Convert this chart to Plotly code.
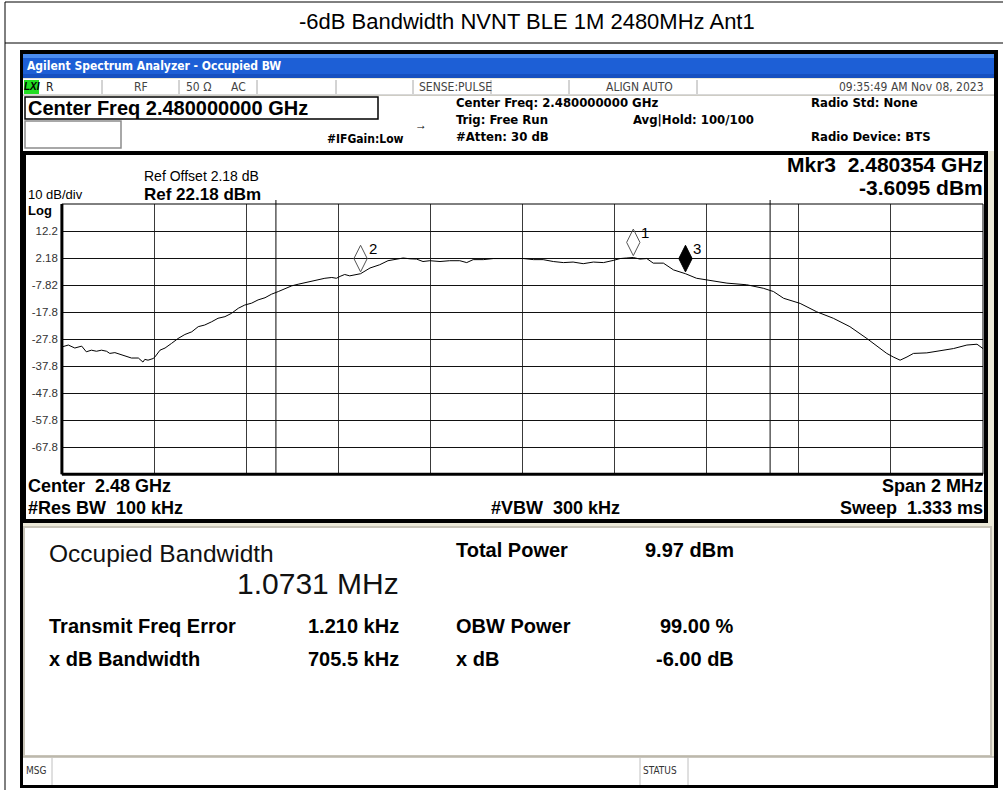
import plotly.graph_objects as go

# ---------------- data ----------------
center_mhz = 2480.0
span_mhz = 2.0
ref_level = 22.18
db_per_div = 10.0

trace_offset_khz = [-1000, -986, -972, -957, -947, -936, -925, -914, -903, -896,
                    -885, -874, -863, -849, -834, -824, -820, -813, -802, -798,
                    -787, -776, -762, -748, -733, -718, -704, -690, -675, -661,
                    -646, -632, -617, -603, -588, -574, -559, -545, -530, -516,
                    -501, -487, -472, -458, -443, -429, -414, -404, -396, -386,
                    -375, -364, -351.5, -331, -310, -292, -273, -259, -244, -230,
                    -216, -201, -179, -158, -136, -121, -107, -85, -63, -42,
                    -20, 2, 24, 45, 67, 89, 110, 132, 154, 176,
                    197, 212, 226, 240.7, 255, 270, 284, 306, 328, 354,
                    378, 407, 444, 487, 523, 545, 567, 603, 639, 675,
                    711, 748, 777, 791, 805, 820, 835, 849, 878, 907,
                    936, 965, 987, 1000]
trace_level_dbm = [-30.7, -30.0, -31.1, -30.4, -32.5, -31.9, -32.3, -31.9, -32.3, -33.1,
                   -32.8, -33.5, -34.0, -34.8, -34.8, -36.3, -35.3, -35.6, -35.0, -34.4,
                   -31.9, -31.1, -29.4, -27.6, -26.1, -25.1, -23.2, -22.6, -21.4, -20.1,
                   -19.5, -18.3, -16.4, -15.2, -14.5, -13.3, -12.5, -11.2, -10.2, -9.2,
                   -8.1, -7.5, -6.9, -6.3, -5.6, -5.3, -5.0, -5.3, -4.6, -3.9,
                   -4.4, -4.0, -3.61, -1.5, -0.3, 1.2, 1.9, 2.2, 1.9, 1.8,
                   0.9, 1.2, 0.9, 1.2, 1.2, 0.5, 1.6, 1.6, 2.0, 2.0,
                   2.2, 2.0, 1.6, 1.6, 0.9, 0.5, 0.7, 0.1, 0.7, 0.5,
                   1.3, 2.0, 2.2, 2.39, 1.8, 2.0, 0.3, 0.3, -2.2, -3.61,
                   -5.3, -6.2, -7.1, -7.7, -9.0, -10.2, -12.7, -14.6, -17.7, -20.1,
                   -23.2, -27.6, -31.3, -33.1, -34.4, -35.6, -34.4, -33.1, -32.9, -32.2,
                   -31.3, -30.0, -29.7, -31.3]

marker_labels = ["1", "2", "3"]
marker_freq_mhz = [2480.2407, 2479.6485, 2480.354]
marker_level_dbm = [2.39, -3.61, -3.6095]
marker_filled = [False, False, True]

obw_mhz = 1.0731
freq_error_khz = 1.210

ytick_vals = [12.18, 2.18, -7.82, -17.82, -27.82, -37.82, -47.82, -57.82, -67.82]
ytick_text = ["12.2", "2.18", "-7.82", "-17.8", "-27.8", "-37.8", "-47.8", "-57.8", "-67.8"]

# ---------------- layout helpers ----------------
W, H = 1003, 794
FONT = "Arial, Liberation Sans, sans-serif"
NARROW = "Liberation Sans Narrow, Arial Narrow, DejaVu Sans Condensed, sans-serif"


def X(px):
    return px / W


def Y(py):
    return 1 - py / H


shapes = []
anns = []


def rect(x0, y0, x1, y1, fill=None, line=None, lw=1, layer="below"):
    shapes.append(dict(type="rect", xref="paper", yref="paper",
                       x0=X(x0), x1=X(x1), y0=Y(y1), y1=Y(y0),
                       fillcolor=fill if fill else "rgba(0,0,0,0)",
                       line=dict(color=line if line else "rgba(0,0,0,0)", width=lw if line else 0),
                       layer=layer))


def seg(x0, y0, x1, y1, color="#000", lw=1, layer="below"):
    shapes.append(dict(type="line", xref="paper", yref="paper",
                       x0=X(x0), x1=X(x1), y0=Y(y0), y1=Y(y1),
                       line=dict(color=color, width=lw), layer=layer))


def txt(px, py, s, size=12, bold=False, color="#000", anchor="left", family=FONT):
    anns.append(dict(x=X(px), y=Y(py), xref="paper", yref="paper",
                     text=(f"<b>{s}</b>" if bold else s), showarrow=False,
                     xanchor=anchor, yanchor="middle", borderpad=0,
                     font=dict(size=size, color=color, family=family)))


NB = "\u00a0"

# ---------------- page frame / report title ----------------
seg(5, 2, 1003, 2, "#000", 1)
seg(5, 43, 1003, 43, "#000", 1)
seg(5, 2, 5, 790, "#000", 1)
txt(527, 21, "-6dB Bandwidth NVNT BLE 1M 2480MHz Ant1", 22, anchor="center")

# ---------------- analyzer window ----------------
rect(20, 50, 998, 788, fill="#000000")
rect(23, 54, 994, 785, fill="#ECE9D8")
# title bar
rect(23, 54, 994, 78, fill="#1D5FD6")
rect(23, 54, 994, 58, fill="#4A8CF0")
rect(23, 74, 994, 78, fill="#1650C0")
txt(26, 66, "Agilent Spectrum Analyzer - Occupied BW", 12, bold=True, color="#FFFFFF",
    family="DejaVu Sans Condensed, sans-serif")

# status row
rect(23, 79, 994, 95, fill="#FFFFFF")
seg(23, 95, 994, 95, "#B0B0B0", 1)
rect(24, 80, 39, 94, fill="#22DD22")
anns.append(dict(x=X(31.5), y=Y(87), xref="paper", yref="paper", text="<b><i>LXI</i></b>",
                 showarrow=False, xanchor="center", yanchor="middle",
                 font=dict(size=10, color="#000", family=FONT)))
for sx in [102, 179, 257, 336, 413, 491, 569, 697]:
    seg(sx, 80, sx, 94, "#A8A8A8", 1)
txt(45, 87, "R", 12, color="#222", family=NARROW)
txt(133, 87, "RF", 12, color="#444", family=NARROW)
txt(185, 87, "50 Ω", 12, color="#444", family=NARROW)
txt(230, 87, "AC", 12, color="#444", family=NARROW)
txt(418, 87, "SENSE:PULSE", 12, color="#444", family=NARROW)
txt(605, 87, "ALIGN AUTO", 12, color="#444", family=NARROW)
txt(985, 87, "09:35:49 AM Nov 08, 2023", 12, color="#444", anchor="right", family=NARROW)

# info area
rect(23, 96, 994, 151, fill="#FFFFFF")
rect(25, 97, 378, 119, fill="#FFFFFF", line="#000", lw=1.5)
txt(27, 108, "Center Freq 2.480000000 GHz", 20, bold=True)
rect(25, 121, 121, 148, fill="#FFFFFF", line="#8C8C8C", lw=1.5)
txt(326, 139, "#IFGain:Low", 12, bold=True, family=NARROW)
txt(414, 125, "→", 12, bold=True)
txt(455, 103, "Center Freq: 2.480000000 GHz", 13, bold=True, family=NARROW)
txt(455, 119, "Trig: Free Run", 13, bold=True, family=NARROW)
txt(455, 136, "#Atten: 30 dB", 13, bold=True, family=NARROW)
txt(632, 119, "Avg|Hold: 100/100", 13, bold=True, family=NARROW)
txt(810, 103, "Radio Std: None", 13, bold=True, family=NARROW)
txt(810, 137, "Radio Device: BTS", 13, bold=True, family=NARROW)

# graph panel
rect(23, 151, 988, 523, fill="#000000")
rect(26, 155, 984, 519, fill="#FFFFFF")
txt(143, 176, "Ref Offset 2.18 dB", 14)
txt(143, 194, "Ref 22.18 dBm", 17, bold=True)
txt(27, 194, "10 dB/div", 13)
txt(27, 210, "Log", 13, bold=True)
txt(984, 164, f"Mkr3{NB}{NB}2.480354 GHz", 21, bold=True, anchor="right")
txt(984, 188, "-3.6095 dBm", 21, bold=True, anchor="right")
txt(27, 486, f"Center{NB}{NB}2.48 GHz", 18, bold=True)
txt(27, 508, f"#Res BW{NB}{NB}100 kHz", 18, bold=True)
txt(490, 508, f"#VBW{NB}{NB}300 kHz", 18, bold=True)
txt(984, 486, "Span 2 MHz", 18, bold=True, anchor="right")
txt(984, 508, f"Sweep{NB}{NB}1.333 ms", 18, bold=True, anchor="right")

# result panel
rect(24, 527, 991, 756, fill="#FFFFFF", line="#C8C4B8", lw=2)
txt(48, 553, "Occupied Bandwidth", 24.5, color="#111")
txt(400, 583, "1.0731 MHz", 30, color="#111", anchor="right")
txt(455, 550, "Total Power", 20, bold=True)
txt(735, 550, "9.97 dBm", 20, bold=True, anchor="right")
txt(48, 626, "Transmit Freq Error", 20, bold=True)
txt(400, 626, "1.210 kHz", 20, bold=True, anchor="right")
txt(455, 626, "OBW Power", 20, bold=True)
txt(735, 626, "99.00 %", 20, bold=True, anchor="right")
txt(48, 659, "x dB Bandwidth", 20, bold=True)
txt(400, 659, "705.5 kHz", 20, bold=True, anchor="right")
txt(455, 659, "x dB", 20, bold=True)
txt(735, 659, "-6.00 dB", 20, bold=True, anchor="right")

# bottom status bar
rect(23, 757, 994, 785, fill="#FFFFFF")
seg(23, 757, 994, 757, "#B8B4A8", 1.5)
seg(52, 758, 52, 785, "#C0C0C0", 1)
seg(640, 758, 640, 785, "#C0C0C0", 1)
seg(688, 758, 688, 785, "#C0C0C0", 1)
txt(25, 770, "MSG", 10, color="#333", family=NARROW)
txt(642, 770, "STATUS", 10, color="#333", family=NARROW)

# ---------------- spectrum plot ----------------
freq_mhz = [center_mhz + k / 1000.0 for k in trace_offset_khz]
x_lo, x_hi = center_mhz - span_mhz / 2, center_mhz + span_mhz / 2
y_hi = ref_level
y_lo = ref_level - 10 * db_per_div

fig = go.Figure()
fig.add_trace(go.Scatter(x=freq_mhz, y=trace_level_dbm, mode="lines",
                         line=dict(color="#000000", width=1), hoverinfo="skip",
                         showlegend=False))

# marker diamonds sit above the marked point
diamond_lift_db = 5.6
for lab, f, lv, filled in zip(marker_labels, marker_freq_mhz, marker_level_dbm, marker_filled):
    fig.add_trace(go.Scatter(
        x=[f], y=[lv + diamond_lift_db], mode="markers", showlegend=False, hoverinfo="skip",
        marker=dict(symbol="diamond-tall" if filled else "diamond-tall-open", size=19,
                    color="#000000" if filled else "#555555",
                    line=dict(color="#000000" if filled else "#555555", width=1))))
    anns.append(dict(x=f, y=lv + diamond_lift_db, xref="x", yref="y", text=lab,
                     showarrow=False, xanchor="center", yanchor="middle",
                     xshift=12, yshift=10, font=dict(size=15, color="#000", family=FONT)))

# occupied bandwidth boundary lines
obw_center = center_mhz + freq_error_khz / 1000.0
for edge in [obw_center - obw_mhz / 2, obw_center + obw_mhz / 2]:
    shapes.append(dict(type="line", xref="x", yref="y domain", x0=edge, x1=edge, y0=0, y1=1.015,
                       line=dict(color="#333333", width=1.2), layer="below"))

# plot frame: thin top/right, heavy left/bottom
shapes.append(dict(type="rect", xref="x domain", yref="y domain", x0=0, x1=1, y0=0, y1=1,
                   line=dict(color="#000", width=1), layer="above"))
shapes.append(dict(type="line", xref="x domain", yref="y domain", x0=0, x1=0, y0=0, y1=1,
                   line=dict(color="#000", width=3), layer="above"))
shapes.append(dict(type="line", xref="x domain", yref="y domain", x0=0, x1=1, y0=0, y1=0,
                   line=dict(color="#000", width=3), layer="above"))

fig.update_layout(
    width=W, height=H,
    margin=dict(l=0, r=0, t=0, b=0),
    paper_bgcolor="#FFFFFF",
    plot_bgcolor="rgba(0,0,0,0)",
    showlegend=False,
    shapes=shapes,
    annotations=anns,
    xaxis=dict(domain=[X(61.9), X(983)], range=[x_lo, x_hi], tick0=x_lo, dtick=0.2,
               showgrid=True, gridcolor="#3A3A3A", gridwidth=1, zeroline=False,
               showticklabels=False, ticks="", showline=False, fixedrange=True),
    yaxis=dict(domain=[Y(474.3), Y(204)], range=[y_lo, y_hi], tickmode="array",
               tickvals=ytick_vals, ticktext=ytick_text, showgrid=True, gridcolor="#111111",
               gridwidth=1, zeroline=False, ticks="", ticklabelstandoff=3,
               tickfont=dict(size=11.5, color="#333333", family=FONT),
               showline=False, fixedrange=True),
)

fig.write_html("out.html", config={"displayModeBar": False},
               post_script="document.body.style.margin='0';")
